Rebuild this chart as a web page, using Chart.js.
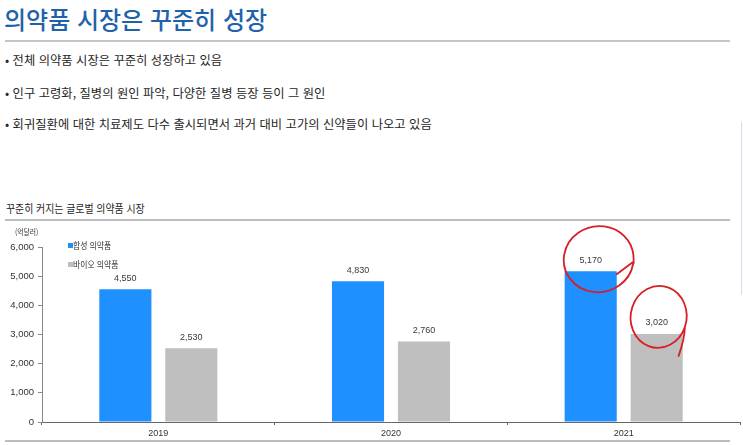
<!DOCTYPE html>
<html lang="ko">
<head>
<meta charset="utf-8">
<script src="https://cdn.jsdelivr.net/npm/chart.js@4.4.1/dist/chart.umd.min.js"></script>
<style>
body{margin:0;background:#fff;width:743px;height:445px;overflow:hidden;position:relative;font-family:"Noto Sans CJK KR","Noto Sans",sans-serif;}
.t{position:absolute;white-space:nowrap;transform-origin:left center;}
.rule{position:absolute;left:5px;width:725px;height:2px;background:#c6c6c6;}
#title{left:4px;top:4px;font-size:24px;line-height:30px;font-weight:500;color:#1f62aa;}
.bul{left:5px;font-size:12.3px;line-height:16px;color:#262626;}
#ctitle{left:6px;top:201px;font-size:11px;line-height:15px;color:#1e1e1e;transform:scaleX(0.9);}
#unit{left:15px;top:226px;font-size:8px;line-height:12px;color:#333;transform:scaleX(0.85);}
.leg{left:73px;font-size:9px;line-height:12px;color:#333;transform:scaleX(0.87);}
.sw{position:absolute;left:68px;width:5px;height:5px;}
#chartBox{position:absolute;left:0;top:225px;}
</style>
</head>
<body>
<div class="t" id="title">의약품 시장은 꾸준히 성장</div>
<div class="rule" style="top:40px"></div>
<div class="t bul" style="top:52px">• 전체 의약품 시장은 꾸준히 성장하고 있음</div>
<div class="t bul" style="top:85px">• 인구 고령화, 질병의 원인 파악, 다양한 질병 등장 등이 그 원인</div>
<div class="t bul" style="top:116px">• 회귀질환에 대한 치료제도 다수 출시되면서 과거 대비 고가의 신약들이 나오고 있음</div>

<div class="t" id="ctitle">꾸준히 커지는 글로벌 의약품 시장</div>
<div class="rule" style="top:219px;background:#bdbdbd"></div>
<div style="position:absolute;left:741px;top:122px;width:1px;height:173px;background:#d3dbf0"></div>

<canvas id="chartBox" width="743" height="215"></canvas>

<div class="t" id="unit">(억달러)</div>
<div class="sw" style="top:243px;background:#1e90ff"></div>
<div class="t leg" style="top:240px">합성 의약품</div>
<div class="sw" style="top:262px;background:#bfbfbf"></div>
<div class="t leg" style="top:259px">바이오 의약품</div>
<div class="rule" style="top:440px;background:#bdbdbd"></div>

<script>
const years = ['2019', '2020', '2021'];
const seriesNames = ['합성 의약품', '바이오 의약품'];
const synthetic = [4550, 4830, 5170];
const bio = [2530, 2760, 3020];
const yTicks = [0, 1000, 2000, 3000, 4000, 5000, 6000];

const numFont = "'Liberation Sans', Arial, sans-serif";

// value labels above each bar
const barLabels = {
    id: 'barLabels',
    afterDatasetsDraw(chart) {
        const ctx = chart.ctx;
        ctx.save();
        ctx.font = '9px ' + numFont;
        ctx.fillStyle = '#3a3a3a';
        ctx.textAlign = 'center';
        ctx.textBaseline = 'middle';
        chart.data.datasets.forEach((ds, i) => {
            chart.getDatasetMeta(i).data.forEach((bar, j) => {
                ctx.fillText(ds.data[j].toLocaleString('en-US'), bar.x, bar.y - 11);
            });
        });
        ctx.restore();
    }
};

// red pen circles around the last year's labels
const penMarks = {
    id: 'penMarks',
    afterDraw(chart) {
        const ctx = chart.ctx;
        const last = years.length - 1;
        const b1 = chart.getDatasetMeta(0).data[last];
        const b2 = chart.getDatasetMeta(1).data[last];
        ctx.save();
        ctx.strokeStyle = '#d61f26';
        ctx.lineWidth = 1.8;
        ctx.lineCap = 'round';

        ctx.beginPath();
        ctx.ellipse(b1.x + 8, b1.y - 12, 35, 33, -0.2, 0.35, Math.PI * 2 + 0.1);
        ctx.lineTo(b1.x + 43, b1.y - 8);
        ctx.moveTo(b1.x + 42, b1.y - 9);
        ctx.lineTo(b1.x + 26, b1.y + 3);
        ctx.stroke();

        ctx.beginPath();
        ctx.ellipse(b2.x + 2, b2.y - 17, 28, 31, 0.15, 0.2, Math.PI * 2 + 0.3);
        ctx.quadraticCurveTo(b2.x + 28, b2.y + 5, b2.x + 22, b2.y + 22);
        ctx.stroke();
        ctx.restore();
    }
};

new Chart(document.getElementById('chartBox'), {
    type: 'bar',
    data: {
        labels: years,
        datasets: [
            { label: seriesNames[0], data: synthetic, backgroundColor: '#1e90ff' },
            { label: seriesNames[1], data: bio, backgroundColor: '#bfbfbf' }
        ]
    },
    options: {
        responsive: false,
        animation: false,
        categoryPercentage: 0.567,
        barPercentage: 0.79,
        layout: { padding: { top: 22, right: 3, left: 0, bottom: 0 } },
        plugins: { legend: { display: false }, tooltip: { enabled: false } },
        scales: {
            x: {
                grid: { drawOnChartArea: false, tickLength: 3, color: '#666', offset: true },
                border: { color: '#666', width: 1 },
                ticks: { color: '#333', font: { family: numFont, size: 9 }, padding: 3 },
                afterFit(s) { s.height = 18; }
            },
            y: {
                min: 0,
                max: 6000,
                afterBuildTicks(s) { s.ticks = yTicks.map(v => ({ value: v })); },
                grid: { drawOnChartArea: false, tickLength: 4, color: '#888' },
                border: { color: '#888', width: 1 },
                ticks: {
                    color: '#333',
                    font: { family: numFont, size: 9.5 },
                    padding: 4,
                    callback: v => v.toLocaleString('en-US')
                },
                afterFit(s) { s.width = 42; }
            }
        }
    },
    plugins: [barLabels, penMarks]
});
</script>
</body>
</html>
